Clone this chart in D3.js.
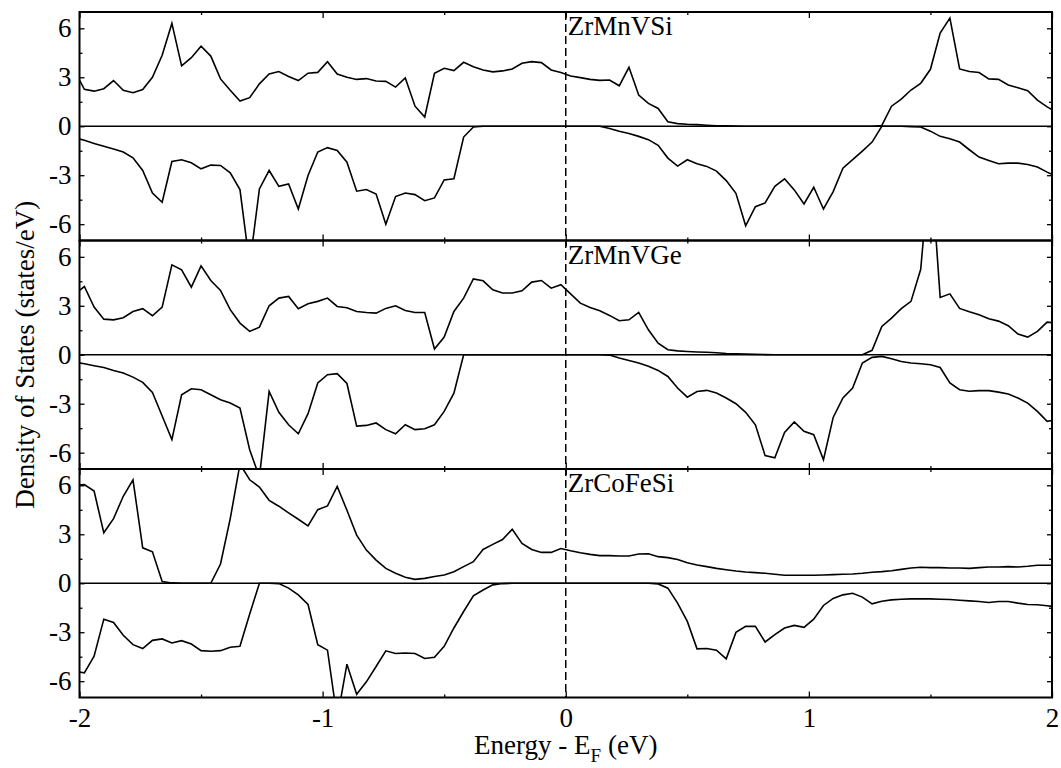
<!DOCTYPE html>
<html>
<head>
<meta charset="utf-8">
<script src="https://cdn.jsdelivr.net/npm/d3@7"></script>
<style>
  body { margin: 0; background: #fff; }
  text { font-family: "Liberation Serif", "Times New Roman", serif; fill: #000; }
</style>
</head>
<body>
<div id="chart"></div>
<script>
// Energy grid (eV, relative to E_F) shared by all curves
const energy = [-2.02,-1.98,-1.94,-1.9,-1.86,-1.82,-1.78,-1.74,-1.7,-1.66,
  -1.62,-1.58,-1.54,-1.5,-1.46,-1.42,-1.38,-1.34,-1.3,-1.26,
  -1.22,-1.18,-1.14,-1.1,-1.06,-1.02,-0.98,-0.94,-0.9,-0.86,
  -0.82,-0.78,-0.74,-0.7,-0.66,-0.62,-0.58,-0.54,-0.5,-0.46,
  -0.42,-0.38,-0.34,-0.3,-0.26,-0.22,-0.18,-0.14,-0.1,-0.06,
  -0.02,0.02,0.06,0.1,0.14,0.18,0.22,0.26,0.3,0.34,
  0.38,0.42,0.46,0.5,0.54,0.58,0.62,0.66,0.7,0.74,
  0.78,0.82,0.86,0.9,0.94,0.98,1.02,1.06,1.1,1.14,
  1.18,1.22,1.26,1.3,1.34,1.38,1.42,1.46,1.5,1.54,
  1.58,1.62,1.66,1.7,1.74,1.78,1.82,1.86,1.9,1.94,
  1.98,2.02];

// ZrMnVSi spin up / spin down
const siUp = [3.4,2.26,2.15,2.3,2.8,2.2,2.05,2.25,3.0,4.35,
  6.3,3.7,4.2,4.9,4.3,2.9,2.2,1.55,1.75,2.6,
  3.2,3.35,3.05,2.8,3.25,3.3,3.95,3.2,3.0,2.87,
  2.92,2.77,2.75,2.4,2.96,1.23,0.57,3.24,3.55,3.41,
  3.92,3.65,3.45,3.33,3.39,3.51,3.86,3.96,3.9,3.45,
  3.29,3.08,2.98,2.87,2.81,2.83,2.48,3.61,1.91,1.4,
  1.09,0.27,0.16,0.12,0.1,0.06,0.03,0.02,0.01,0,
  0,0,0,0,0,0,0,0,0,0,
  0,0,0,0.05,1.23,1.66,2.22,2.63,3.49,5.71,
  6.63,3.51,3.35,3.29,2.9,2.87,2.53,2.36,2.18,1.6,
  1.19,0.85];
const siDn = [-0.7,-0.86,-1.05,-1.23,-1.4,-1.58,-1.93,-2.71,-4.09,-4.66,
  -2.16,-2.05,-2.24,-2.61,-2.38,-2.4,-2.85,-3.88,-8.5,-3.84,
  -2.71,-3.68,-3.53,-5.07,-3.02,-1.58,-1.31,-1.48,-2.2,-3.98,
  -3.88,-4.15,-6.0,-4.31,-4.09,-4.19,-4.56,-4.39,-3.29,-3.22,
  -0.66,-0.04,0,0,0,0,0,0,0,0,
  0,0,0,0,0,-0.14,-0.31,-0.45,-0.62,-0.82,
  -1.17,-1.95,-2.44,-2.05,-2.3,-2.46,-2.75,-3.33,-4.11,-6.1,
  -4.93,-4.7,-3.68,-3.22,-3.9,-4.76,-3.74,-5.07,-4.0,-2.57,
  -2.05,-1.52,-0.97,0,0,0,-0.02,-0.05,-0.3,-0.62,
  -0.76,-0.97,-1.44,-1.89,-2.1,-2.3,-2.26,-2.26,-2.34,-2.5,
  -2.81,-3.1];

// ZrMnVGe spin up / spin down
const geUp = [3.7,4.18,2.92,2.18,2.14,2.27,2.65,2.82,2.39,2.92,
  5.51,5.2,4.14,5.45,4.55,3.94,2.76,1.94,1.43,1.69,
  3.0,3.47,3.57,2.82,3.12,3.27,3.47,2.96,2.88,2.65,
  2.59,2.55,2.84,3.0,2.71,2.59,2.59,0.35,1.08,2.65,
  3.47,4.65,4.53,3.98,3.78,3.78,3.92,4.45,4.55,4.08,
  4.29,3.73,3.16,2.9,2.69,2.41,2.08,2.14,2.59,1.53,
  0.71,0.31,0.24,0.2,0.17,0.15,0.12,0.08,0.06,0.04,
  0.02,0.01,0,0,0,0,0,0,0,0,
  0,0,0.27,1.73,2.24,2.82,3.27,5.24,12,3.51,
  3.73,2.84,2.63,2.45,2.2,2.06,1.78,1.27,1.08,1.43,
  2.0,1.94];
const geDn = [-0.45,-0.55,-0.67,-0.78,-0.96,-1.12,-1.37,-1.69,-2.31,-3.75,
  -5.2,-2.45,-2.08,-2.14,-2.45,-2.76,-2.96,-3.27,-5.82,-7.5,
  -2.24,-3.53,-4.29,-4.84,-3.61,-1.73,-1.22,-1.16,-1.76,-4.37,
  -4.33,-4.18,-4.59,-4.84,-4.29,-4.59,-4.53,-4.29,-3.47,-2.35,
  0,0,0,0,0,0,0,0,0,0,
  0,0,0,0,0,-0.02,-0.2,-0.35,-0.51,-0.71,
  -0.96,-1.33,-2.04,-2.6,-2.25,-2.18,-2.35,-2.65,-3.0,-3.53,
  -4.29,-6.18,-6.31,-4.76,-4.12,-4.69,-4.9,-6.43,-3.84,-2.65,
  -2.04,-0.51,-0.16,-0.1,-0.24,-0.41,-0.51,-0.55,-0.61,-0.78,
  -1.73,-2.14,-2.24,-2.2,-2.2,-2.29,-2.41,-2.65,-2.96,-3.47,
  -4.08,-3.98];

// ZrCoFeSi spin up / spin down
const cfUp = [6.0,6.04,5.65,3.09,3.96,5.33,6.34,2.17,1.93,0.1,
  0.02,0,0,0,0,1.18,3.96,7.3,6.34,5.89,
  5.08,4.72,4.31,3.92,3.52,4.51,4.74,5.93,4.47,2.95,
  2.03,1.42,0.91,0.61,0.37,0.24,0.3,0.41,0.51,0.71,
  1.02,1.32,2.07,2.38,2.68,3.31,2.44,2.07,1.89,1.89,
  2.13,1.99,1.87,1.77,1.69,1.69,1.67,1.67,1.79,1.81,
  1.63,1.57,1.46,1.26,1.12,1.02,0.91,0.83,0.75,0.69,
  0.65,0.61,0.55,0.49,0.49,0.49,0.49,0.51,0.53,0.55,
  0.57,0.61,0.67,0.71,0.77,0.85,0.93,0.98,0.96,0.96,
  0.93,0.93,0.91,0.96,1.0,1.0,1.02,1.0,1.04,1.1,
  1.1,1.1];
const cfDn = [-5.4,-5.49,-4.47,-2.2,-2.4,-3.19,-3.76,-4.0,-3.5,-3.41,
  -3.66,-3.52,-3.72,-4.13,-4.17,-4.13,-3.92,-3.86,-1.89,0,
  0,-0.02,-0.3,-0.71,-1.3,-3.76,-4.1,-8.3,-4.96,-6.8,
  -6.04,-5.1,-4.14,-4.3,-4.27,-4.3,-4.61,-4.53,-3.86,-2.74,
  -1.73,-0.77,-0.41,-0.1,-0.02,0,0,0,0,0,
  0,0,0,0,0,0,0,0,0,0,
  -0.04,-0.3,-1.22,-2.34,-4.02,-4.0,-4.1,-4.63,-3.01,-2.64,
  -2.64,-3.6,-3.15,-2.74,-2.58,-2.7,-2.2,-1.36,-0.93,-0.71,
  -0.61,-0.85,-1.26,-1.1,-1.02,-0.98,-0.96,-0.96,-0.96,-0.98,
  -1.0,-1.04,-1.08,-1.12,-1.18,-1.12,-1.12,-1.22,-1.3,-1.32,
  -1.38,-1.46];

const compounds = ["ZrMnVSi", "ZrMnVGe", "ZrCoFeSi"];
const upSeries = [siUp, geUp, cfUp];
const dnSeries = [siDn, geDn, cfDn];

const xTicks = [-2, -1, 0, 1, 2];
const xMinorTicks = [-1.5, -0.5, 0.5, 1.5];
const yTicks = [-6, -3, 0, 3, 6];
const yMinorTicks = [-4.5, -1.5, 1.5, 4.5];

function drawChart() {
  const width = 1061, height = 768;
  const left = 79.5, right = 1052, top = 12, bottom = 697.5;
  const panelH = (bottom - top) / 3;

  const svg = d3.select("#chart")
      .append("svg")
      .attr("width", width)
      .attr("height", height);

  const x = d3.scaleLinear().domain([-2, 2]).range([left, right]);

  compounds.forEach((name, i) => {
    const pTop = top + i * panelH;
    const y = d3.scaleLinear().domain([-7, 7]).range([pTop + panelH, pTop]);
    const g = svg.append("g");

    // clip data lines to the panel
    const clipId = "clip" + i;
    svg.append("clipPath")
        .attr("id", clipId)
        .append("rect")
        .attr("x", left)
        .attr("y", pTop)
        .attr("width", right - left)
        .attr("height", panelH);

    // zero line
    g.append("line")
        .attr("x1", left).attr("x2", right)
        .attr("y1", y(0)).attr("y2", y(0))
        .attr("stroke", "#000")
        .attr("stroke-width", 1.5);

    // spin up and spin down curves
    const line = d3.line()
        .x((d, k) => x(energy[k]))
        .y(d => y(d));

    [upSeries[i], dnSeries[i]].forEach(series => {
      g.append("path")
          .datum(series)
          .attr("clip-path", `url(#${clipId})`)
          .attr("d", line)
          .attr("fill", "none")
          .attr("stroke", "#000")
          .attr("stroke-width", 1.6)
          .attr("stroke-linejoin", "miter");
    });

    // inward ticks on all four sides
    const addAxis = (axis, tx, ty, labels) => {
      const a = g.append("g")
          .attr("transform", `translate(${tx},${ty})`)
          .call(axis);
      a.select(".domain").remove();
      a.selectAll(".tick line").attr("stroke-width", 1.3);
      a.selectAll("text")
          .style("font-size", "27px")
          .style("font-family", '"Liberation Serif", serif');
      if (!labels) a.selectAll("text").remove();
      return a;
    };

    addAxis(d3.axisLeft(y).tickValues(yTicks).tickSize(-5).tickPadding(8)
        .tickFormat(d => String(d)), left, 0, true);
    addAxis(d3.axisLeft(y).tickValues(yMinorTicks).tickSize(-3), left, 0, false);
    addAxis(d3.axisRight(y).tickValues(yTicks).tickSize(-5), right, 0, false);
    addAxis(d3.axisRight(y).tickValues(yMinorTicks).tickSize(-3), right, 0, false);

    addAxis(d3.axisTop(x).tickValues(xTicks).tickSize(-6), 0, pTop, false);
    addAxis(d3.axisTop(x).tickValues(xMinorTicks).tickSize(-3), 0, pTop, false);
    addAxis(d3.axisBottom(x).tickValues(xTicks).tickSize(-6).tickPadding(10)
        .tickFormat(d => String(d)), 0, pTop + panelH, i === 2);
    addAxis(d3.axisBottom(x).tickValues(xMinorTicks).tickSize(-3), 0, pTop + panelH, false);

    // panel frame
    g.append("rect")
        .attr("x", left)
        .attr("y", pTop)
        .attr("width", right - left)
        .attr("height", panelH)
        .attr("fill", "none")
        .attr("stroke", "#000")
        .attr("stroke-width", 2);

    // compound label
    g.append("text")
        .attr("x", x(0) + 2)
        .attr("y", pTop + 23)
        .style("font-size", "27px")
        .text(name);
  });

  // Fermi level
  svg.append("line")
      .attr("x1", x(0)).attr("x2", x(0))
      .attr("y1", top).attr("y2", bottom)
      .attr("stroke", "#000")
      .attr("stroke-width", 1.5)
      .attr("stroke-dasharray", "8,4");

  // axis titles
  const xTitle = svg.append("text")
      .attr("x", x(0))
      .attr("y", 754)
      .attr("text-anchor", "middle")
      .style("font-size", "27px");
  xTitle.append("tspan").text("Energy - E");
  xTitle.append("tspan").attr("dy", 8).style("font-size", "19px").text("F");
  xTitle.append("tspan").attr("dy", -8).text(" (eV)");

  svg.append("text")
      .attr("transform", `translate(34,${(top + bottom) / 2}) rotate(-90)`)
      .attr("text-anchor", "middle")
      .style("font-size", "27px")
      .text("Density of States (states/eV)");
}

drawChart();
</script>
</body>
</html>
